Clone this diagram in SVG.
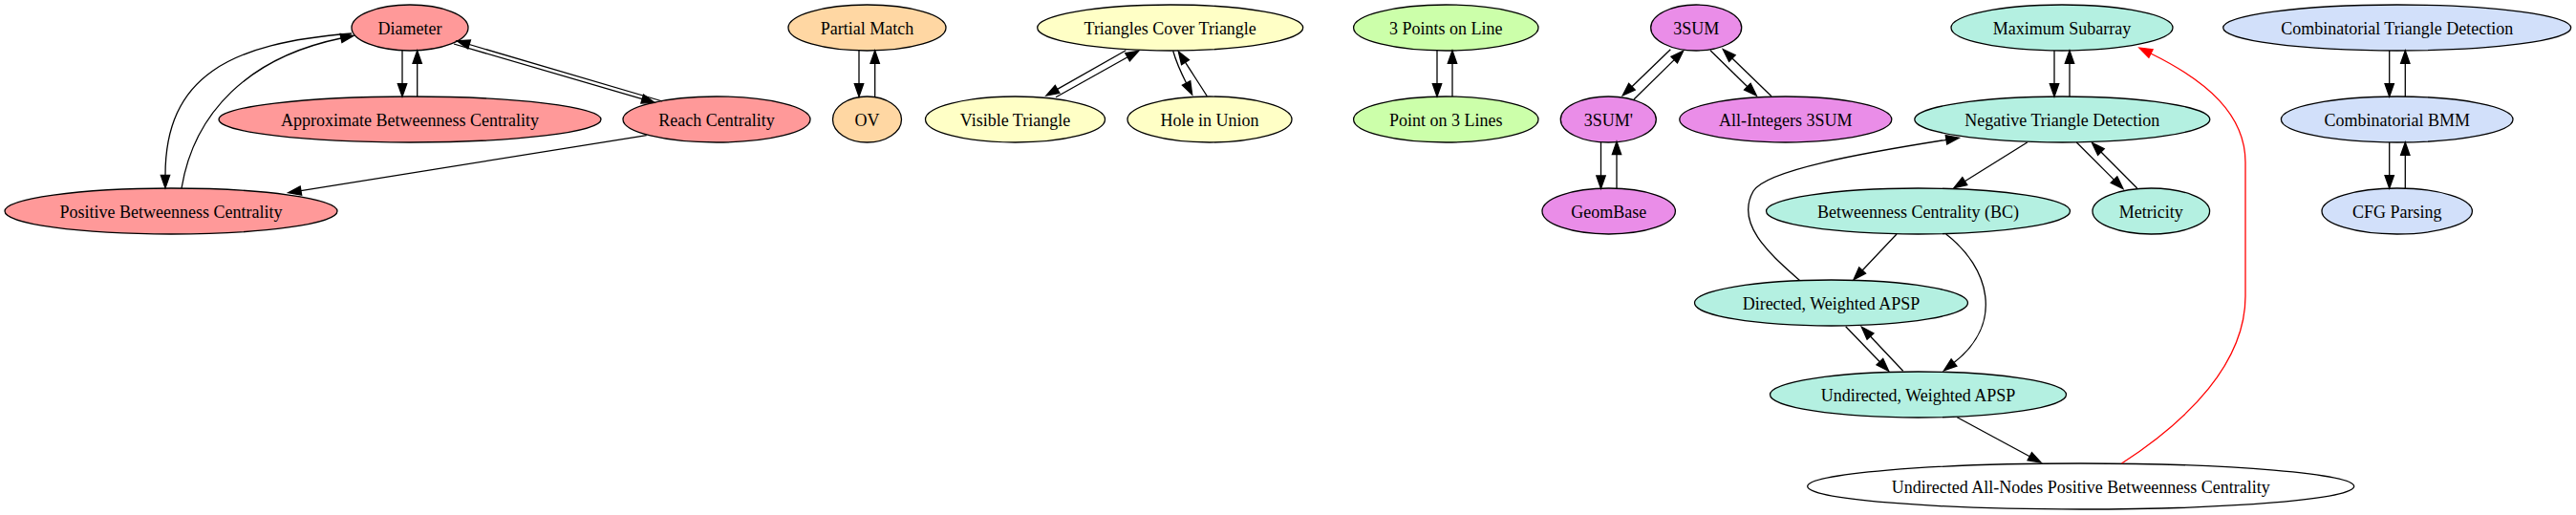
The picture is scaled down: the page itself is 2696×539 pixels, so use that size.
<svg xmlns="http://www.w3.org/2000/svg" width="2696" height="539" viewBox="0 0 2696 539">
<style>
  .n { stroke: #000; stroke-width: 1.3; }
  .red { fill: #ff9999; }
  .peach { fill: #ffd7a3; }
  .yel { fill: #ffffc6; }
  .grn { fill: #ccffaa; }
  .pur { fill: #ea8de8; }
  .teal { fill: #b4f0e1; }
  .blue { fill: #d2e0fa; }
  .wht { fill: #ffffff; }
  text { font-family: "Liberation Serif", "Times New Roman", serif; font-size: 18px; text-anchor: middle; fill: #000; }
  .e { fill: none; stroke: #000; stroke-width: 1.3; marker-end: url(#ah); }
  .er { fill: none; stroke: #ff0000; stroke-width: 1.3; marker-end: url(#ahr); }
</style>
<defs>
  <marker id="ah" viewBox="0 0 10 7" refX="0" refY="3.5" markerWidth="13.33" markerHeight="9.33" markerUnits="userSpaceOnUse" orient="auto" overflow="visible">
    <path d="M0,0 L10,3.5 L0,7 z" fill="#000" stroke="#000" stroke-width="1"/>
  </marker>
  <marker id="ahr" viewBox="0 0 10 7" refX="0" refY="3.5" markerWidth="13.33" markerHeight="9.33" markerUnits="userSpaceOnUse" orient="auto" overflow="visible">
    <path d="M0,0 L10,3.5 L0,7 z" fill="#ff0000" stroke="#ff0000" stroke-width="1"/>
  </marker>
</defs>
<rect width="2696" height="539" fill="#ffffff"/>

<g id="diameter"><ellipse class="n red" cx="429" cy="29" rx="61" ry="24"/><text x="429" y="36">Diameter</text></g>
<g id="approx-bc"><ellipse class="n red" cx="429" cy="125" rx="200" ry="24"/><text x="429" y="132">Approximate Betweenness Centrality</text></g>
<g id="reach"><ellipse class="n red" cx="750" cy="125" rx="98" ry="24"/><text x="750" y="132">Reach Centrality</text></g>
<g id="positive-bc"><ellipse class="n red" cx="179" cy="221" rx="174" ry="24"/><text x="179" y="228">Positive Betweenness Centrality</text></g>

<g id="partial-match"><ellipse class="n peach" cx="907.5" cy="29" rx="82.5" ry="24"/><text x="907.5" y="36">Partial Match</text></g>
<g id="ov"><ellipse class="n peach" cx="907.5" cy="125" rx="36" ry="24"/><text x="907.5" y="132">OV</text></g>

<g id="triangles-cover"><ellipse class="n yel" cx="1224.7" cy="29" rx="139" ry="24"/><text x="1224.7" y="36">Triangles Cover Triangle</text></g>
<g id="visible-triangle"><ellipse class="n yel" cx="1062.5" cy="125" rx="94" ry="24"/><text x="1062.5" y="132">Visible Triangle</text></g>
<g id="hole-in-union"><ellipse class="n yel" cx="1266" cy="125" rx="86" ry="24"/><text x="1266" y="132">Hole in Union</text></g>

<g id="three-points"><ellipse class="n grn" cx="1513.3" cy="29" rx="96.7" ry="24"/><text x="1513.3" y="36">3 Points on Line</text></g>
<g id="point-three-lines"><ellipse class="n grn" cx="1513.3" cy="125" rx="96.7" ry="24"/><text x="1513.3" y="132">Point on 3 Lines</text></g>

<g id="threesum"><ellipse class="n pur" cx="1775.2" cy="29" rx="47.5" ry="24"/><text x="1775.2" y="36">3SUM</text></g>
<g id="threesum-prime"><ellipse class="n pur" cx="1683.3" cy="125" rx="50" ry="24"/><text x="1683.3" y="132">3SUM'</text></g>
<g id="all-integers"><ellipse class="n pur" cx="1868.8" cy="125" rx="111" ry="24"/><text x="1868.8" y="132">All-Integers 3SUM</text></g>
<g id="geombase"><ellipse class="n pur" cx="1683.7" cy="221" rx="69.7" ry="24"/><text x="1683.7" y="228">GeomBase</text></g>

<g id="max-subarray"><ellipse class="n teal" cx="2158" cy="29" rx="116" ry="24"/><text x="2158" y="36">Maximum Subarray</text></g>
<g id="neg-triangle"><ellipse class="n teal" cx="2158.3" cy="125" rx="154.5" ry="24"/><text x="2158.3" y="132">Negative Triangle Detection</text></g>
<g id="bc"><ellipse class="n teal" cx="2007.5" cy="221" rx="159" ry="24"/><text x="2007.5" y="228">Betweenness Centrality (BC)</text></g>
<g id="metricity"><ellipse class="n teal" cx="2251.3" cy="221" rx="61.3" ry="24"/><text x="2251.3" y="228">Metricity</text></g>
<g id="directed-apsp"><ellipse class="n teal" cx="1916.5" cy="317" rx="143" ry="24"/><text x="1916.5" y="324">Directed, Weighted APSP</text></g>
<g id="undirected-apsp"><ellipse class="n teal" cx="2007.5" cy="413" rx="155" ry="24"/><text x="2007.5" y="420">Undirected, Weighted APSP</text></g>
<g id="undirected-all-nodes"><ellipse class="n wht" cx="2177.7" cy="509" rx="286" ry="24"/><text x="2177.7" y="516">Undirected All-Nodes Positive Betweenness Centrality</text></g>

<g id="comb-triangle"><ellipse class="n blue" cx="2508.7" cy="29" rx="182" ry="24"/><text x="2508.7" y="36">Combinatorial Triangle Detection</text></g>
<g id="comb-bmm"><ellipse class="n blue" cx="2508.7" cy="125" rx="121.3" ry="24"/><text x="2508.7" y="132">Combinatorial BMM</text></g>
<g id="cfg-parsing"><ellipse class="n blue" cx="2508.7" cy="221" rx="78.7" ry="24"/><text x="2508.7" y="228">CFG Parsing</text></g>

<g id="edges">
  <path class="e" d="M421,53 L421,87.7"/>
  <path class="e" d="M436.7,101 L436.7,66.3"/>
  <path class="e" d="M475,46 L672.2,103.6"/>
  <path class="e" d="M693.3,106 L491.1,46.5"/>
  <path class="e" d="M368,35 C240,45 173,80 173,183.4"/>
  <path class="e" d="M190,197 C203,118 260,60 357,40"/>
  <path class="e" d="M676.7,141.7 L314.9,199.6"/>

  <path class="e" d="M899,53 L899,87.7"/>
  <path class="e" d="M915.7,101 L915.7,66.3"/>

  <path class="e" d="M1178.3,52.7 L1106.6,93.4"/>
  <path class="e" d="M1105,101.7 L1180.1,59.8"/>
  <path class="e" d="M1227.7,53.3 C1231,65 1236,76 1241.6,87"/>
  <path class="e" d="M1263.3,100.7 C1256,89 1248,77 1240.5,65.2"/>

  <path class="e" d="M1504,53 L1504,87.7"/>
  <path class="e" d="M1520,101 L1520,66.3"/>

  <path class="e" d="M1748.3,51.7 L1707.9,90.7"/>
  <path class="e" d="M1710,104 L1752.2,62.6"/>
  <path class="e" d="M1790,52.7 L1828.8,90.7"/>
  <path class="e" d="M1854,100.7 L1812.9,61"/>
  <path class="e" d="M1675.5,149 L1675.5,184"/>
  <path class="e" d="M1692,197.3 L1692,161.6"/>

  <path class="e" d="M2150,53 L2150,87.7"/>
  <path class="e" d="M2166,101 L2166,66.3"/>
  <path class="e" d="M2121.7,149 L2056.3,189.7"/>
  <path class="e" d="M2173.3,149 L2212.5,188.1"/>
  <path class="e" d="M2236.7,197 L2198.9,159"/>
  <path class="e" d="M1883.3,293.3 C1855,268 1815,235 1835,200 C1848,178 1950,160 2037,146.3"/>
  <path class="e" d="M1985,245 L1949.1,283"/>
  <path class="e" d="M2036.7,245 C2082,280 2098,338 2045,379.5"/>
  <path class="e" d="M1931.7,341.7 L1967.4,378.7"/>
  <path class="e" d="M1991.7,388.3 L1957.5,352"/>
  <path class="e" d="M2048.3,436.7 L2124.3,477.7"/>
  <path class="er" d="M2220.5,485 C2290,440 2350,380 2350,310 L2350,170 C2350,120 2310,85 2251,56"/>

  <path class="e" d="M2500.7,53 L2500.7,87.7"/>
  <path class="e" d="M2517.3,101 L2517.3,66.3"/>
  <path class="e" d="M2500.7,149 L2500.7,183.7"/>
  <path class="e" d="M2517.3,197 L2517.3,162.3"/>
</g>
</svg>
